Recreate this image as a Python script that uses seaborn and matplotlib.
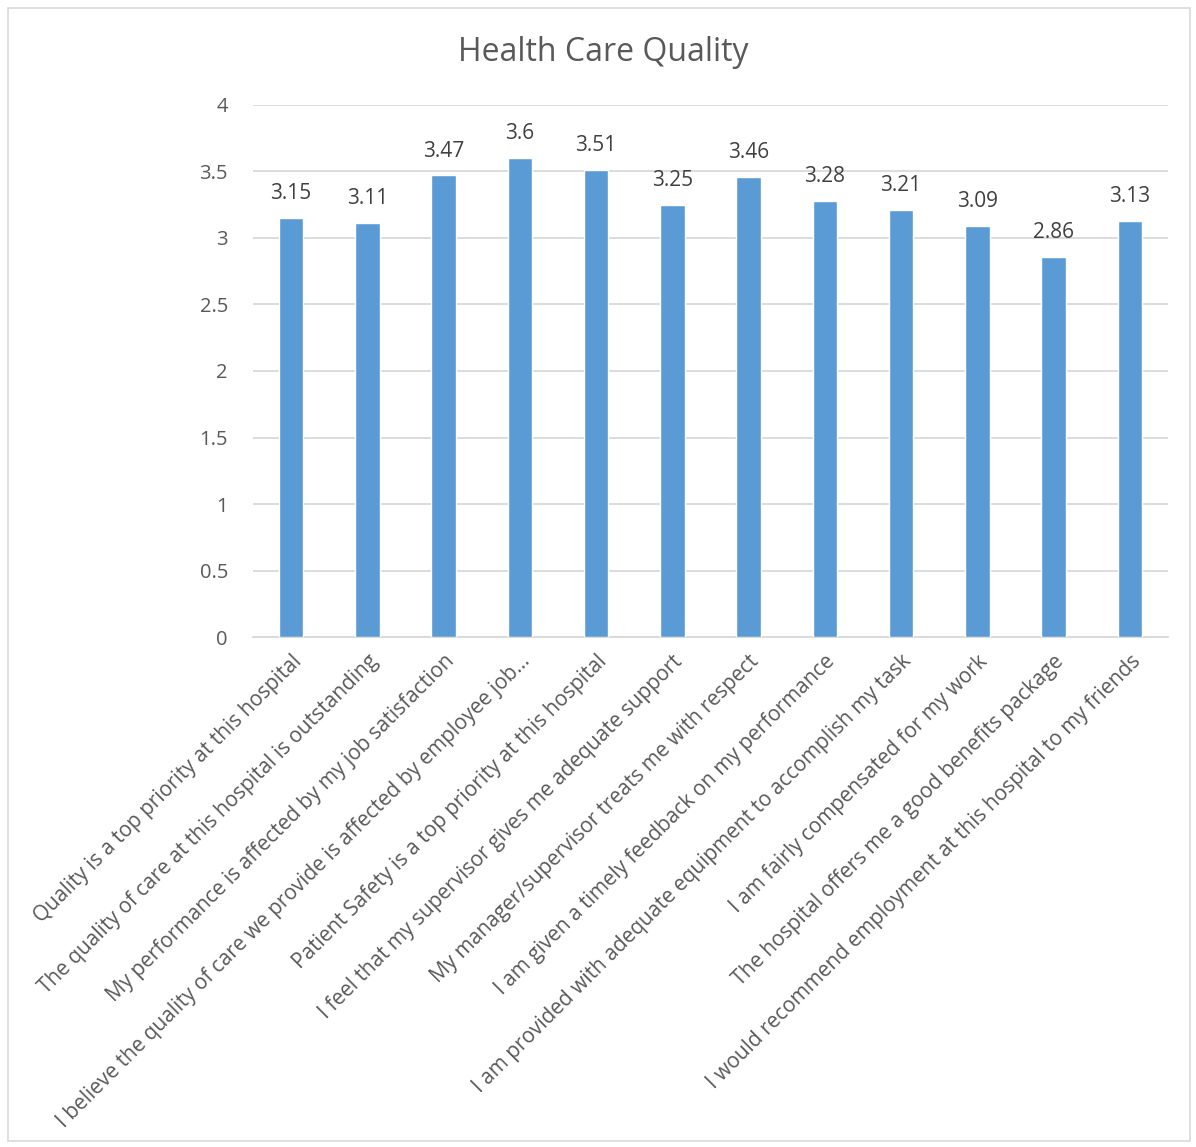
import matplotlib
matplotlib.use("Agg")
import matplotlib.pyplot as plt
import seaborn as sns
import pandas as pd
from matplotlib.patches import Rectangle

categories = [
    "Quality is a top priority at this hospital",
    "The quality of care at this hospital is outstanding",
    "My performance is affected by my job satisfaction",
    "I believe the quality of care we provide is affected by employee job\u2026",
    "Patient Safety is a top priority at this hospital",
    "I feel that my supervisor gives me adequate support",
    "My manager/supervisor treats me with respect",
    "I am given a timely feedback on my performance",
    "I am provided with adequate equipment to accomplish my task",
    "I am fairly compensated for my work",
    "The hospital offers me a good benefits package",
    "I would recommend employment at this hospital to my friends",
]
scores = [3.15, 3.11, 3.47, 3.6, 3.51, 3.25, 3.46, 3.28, 3.21, 3.09, 2.86, 3.13]
y_ticks = [0, 0.5, 1, 1.5, 2, 2.5, 3, 3.5, 4]
y_tick_labels = ["0", "0.5", "1", "1.5", "2", "2.5", "3", "3.5", "4"]
title = "Health Care Quality"

df = pd.DataFrame({"item": categories, "score": scores})

sns.set_theme(style="white")
plt.rcParams["font.family"] = ["Open Sans", "DejaVu Sans"]

text_color = "#595959"
bar_color = "#5B9BD5"
grid_color = "#D9D9D9"

fig = plt.figure(figsize=(11.96, 11.47), dpi=100)
ax = fig.add_axes([0.2115, 0.4446, 0.7651, 0.4639])

sns.barplot(data=df, x="item", y="score", color=bar_color, width=0.32,
            saturation=1, ax=ax, zorder=3)

ax.set_ylim(0, 4)
ax.set_xlim(-0.5, len(categories) - 0.5)
ax.set_yticks(y_ticks)
ax.set_yticklabels(y_tick_labels, fontsize=14.5, color=text_color)
ax.yaxis.grid(True, color=grid_color, linewidth=1.3, zorder=0)
ax.set_axisbelow(True)
for side in ["left", "right", "top"]:
    ax.spines[side].set_visible(False)
ax.spines["bottom"].set_color(grid_color)
ax.spines["bottom"].set_linewidth(1.3)
ax.tick_params(axis="y", length=0, pad=18)
ax.set_xlabel("")
ax.set_ylabel("")

ax.set_xticks(range(len(categories)))
ax.set_xticklabels(categories, rotation=45, ha="right", rotation_mode="anchor",
                   fontsize=15, color=text_color)
ax.tick_params(axis="x", length=0, pad=10)

for i, v in enumerate(scores):
    ax.annotate(f"{v:g}", xy=(i, v), xytext=(0, 10), textcoords="offset points",
                ha="center", va="bottom", fontsize=15, color="#404040")

fig.text(0.504, 0.954, title, ha="center", va="center", fontsize=23, color=text_color)

fig.patches.append(Rectangle((0.007, 0.005), 0.988, 0.988, transform=fig.transFigure,
                             fill=False, edgecolor="#D9D9D9", linewidth=1.2))

fig.savefig("out.png", dpi=100, facecolor="white")
